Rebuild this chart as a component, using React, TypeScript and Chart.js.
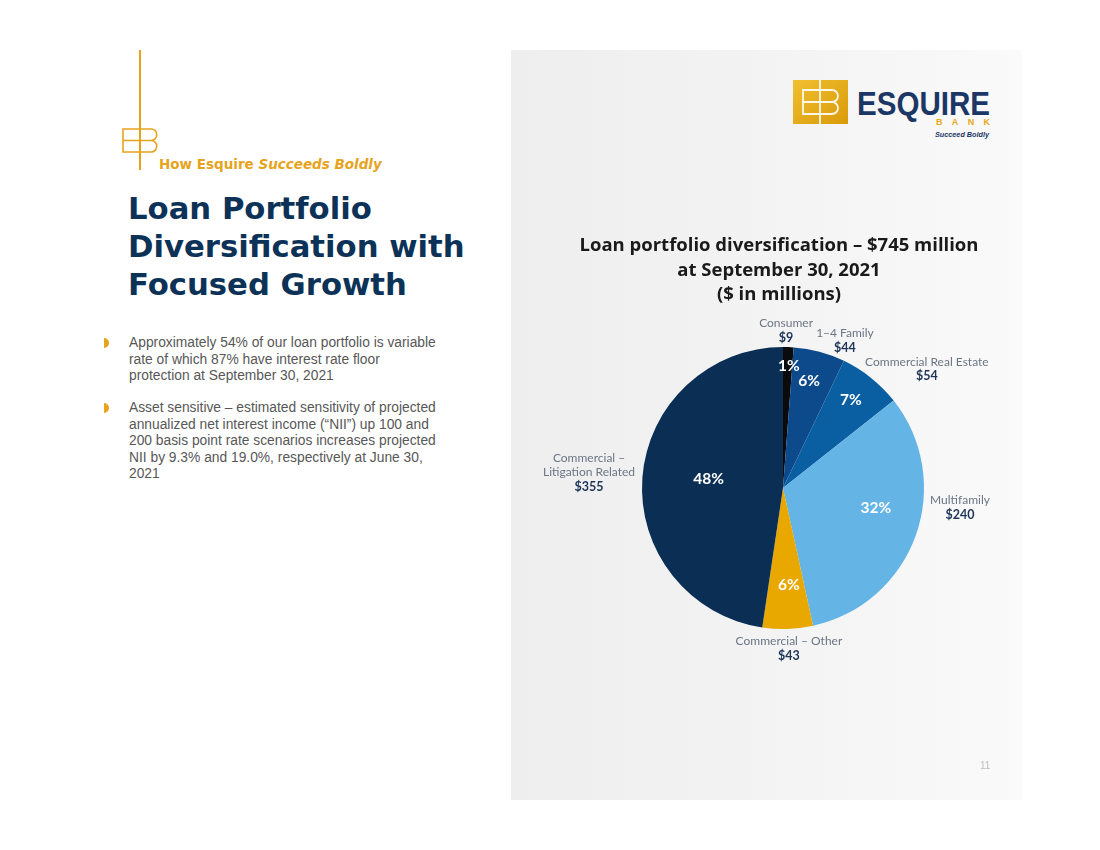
import React, { useEffect, useRef } from "react";
import { Chart, registerables } from "chart.js";

Chart.register(...registerables);

// ---------- data ----------
const categories = [
  "Consumer",
  "1–4 Family",
  "Commercial Real Estate",
  "Multifamily",
  "Commercial – Other",
  "Commercial – Litigation Related",
];
const categoryLines = [
  ["Consumer"],
  ["1–4 Family"],
  ["Commercial Real Estate"],
  ["Multifamily"],
  ["Commercial – Other"],
  ["Commercial –", "Litigation Related"],
];
const loanValues = [9, 44, 54, 240, 43, 355]; // $ millions
const sliceColors = ["#0b0b0e", "#0c4a8b", "#0a5fa2", "#64b4e6", "#e8a800", "#0b2e55"];
const chartTitle = [
  "Loan portfolio diversification – $745 million",
  "at September 30, 2021",
  "($ in millions)",
];

// ---------- label placement style (polar, relative to each slice) ----------
const pctPlace = [
  { f: 0.865, d: 0.6 },
  { f: 0.78, d: -1.3 },
  { f: 0.787, d: -1 },
  { f: 0.674, d: -7.7 },
  { f: 0.688, d: -1.5 },
  { f: 0.532, d: 3 },
];
const outPlace = [
  { f: 1.17, d: -1.1 },
  { f: 1.184, d: 6.8 },
  { f: 1.357, d: 10.1 },
  { f: 1.258, d: -15.8 },
  { f: 1.086, d: -0.3 },
  { f: 1.392, d: 4.6 },
];

const FONT = "Lato, 'Open Sans', sans-serif";

const sliceLabelPlugin = {
  id: "sliceLabels",
  afterDatasetsDraw(chart: any) {
    const ctx = chart.ctx as CanvasRenderingContext2D;
    const meta = chart.getDatasetMeta(0);
    const data = chart.data.datasets[0].data as number[];
    const total = data.reduce((a, b) => a + b, 0);
    ctx.save();
    ctx.textAlign = "center";
    ctx.textBaseline = "middle";
    meta.data.forEach((arc: any, i: number) => {
      const p = arc.getProps(["x", "y", "startAngle", "endAngle", "outerRadius"], true);
      const mid = (p.startAngle + p.endAngle) / 2;
      const pp = pctPlace[i];
      const a1 = mid + (pp.d * Math.PI) / 180;
      const r1 = p.outerRadius * pp.f;
      ctx.fillStyle = "#ffffff";
      ctx.font = `bold 15.5px ${FONT}`;
      ctx.fillText(`${Math.round((data[i] / total) * 100)}%`, p.x + r1 * Math.cos(a1), p.y + r1 * Math.sin(a1));
      const op = outPlace[i];
      const a2 = mid + (op.d * Math.PI) / 180;
      const r2 = p.outerRadius * op.f;
      const lx = p.x + r2 * Math.cos(a2);
      let ly = p.y + r2 * Math.sin(a2);
      ctx.font = `12px ${FONT}`;
      ctx.fillStyle = "#6b7585";
      categoryLines[i].forEach((line) => {
        ctx.fillText(line, lx, ly);
        ly += 14.5;
      });
      ctx.font = `bold 12.5px ${FONT}`;
      ctx.fillStyle = "#1e3558";
      ctx.fillText(`$${data[i]}`, lx, ly);
    });
    ctx.restore();
  },
};

const titlePlugin = {
  id: "panelTitle",
  afterDraw(chart: any) {
    const ctx = chart.ctx as CanvasRenderingContext2D;
    ctx.save();
    ctx.textAlign = "center";
    ctx.textBaseline = "middle";
    ctx.fillStyle = "#1a1a1a";
    ctx.font = `bold 18.5px 'Open Sans', Lato, sans-serif`;
    chartTitle.forEach((t, i) => ctx.fillText(t, 268, 196 + i * 24.5));
    ctx.restore();
  },
};

function PieChart() {
  const ref = useRef<HTMLCanvasElement | null>(null);
  useEffect(() => {
    if (!ref.current) return;
    const chart = new Chart(ref.current, {
      type: "pie",
      data: {
        labels: categories,
        datasets: [
          {
            data: loanValues,
            backgroundColor: sliceColors,
            borderWidth: 0,
          },
        ],
      },
      options: {
        animation: false,
        responsive: false,
        layout: { padding: { left: 131, right: 98, top: 297, bottom: 171 } },
        plugins: {
          legend: { display: false },
          tooltip: { enabled: false },
          title: { display: false },
        },
      },
      plugins: [sliceLabelPlugin, titlePlugin],
    });
    return () => chart.destroy();
  }, []);
  return <canvas ref={ref} width={511} height={750} style={{ position: "absolute", left: 511, top: 50, width: 511, height: 750 }} />;
}

const gold = "#e6a31c";
const navy = "#0d3257";
const HEAVY = "'DejaVu Sans', 'Liberation Sans', Arial, sans-serif";

function Bullet({ top, lines }: { top: number; lines: string[] }) {
  return (
    <>
      <div
        style={{
          position: "absolute",
          left: 104,
          top: top + 3,
          width: 5,
          height: 10,
          background: gold,
          borderRadius: "0 6px 6px 0",
        }}
      />
      <div
        style={{
          position: "absolute",
          left: 129,
          top,
          fontSize: 13.8,
          lineHeight: "16.5px",
          color: "#575757",
          whiteSpace: "nowrap",
        }}
      >
        {lines.map((l, i) => (
          <div key={i}>{l}</div>
        ))}
      </div>
    </>
  );
}

export default function App() {
  return (
    <div
      style={{
        position: "absolute",
        left: 0,
        top: 0,
        width: 1100,
        height: 850,
        background: "#ffffff",
        fontFamily: "'Liberation Sans', Arial, sans-serif",
        overflow: "hidden",
      }}
    >
      {/* left branding */}
      <div style={{ position: "absolute", left: 139, top: 50, width: 1.6, height: 120, background: gold }} />
      <svg style={{ position: "absolute", left: 118, top: 124 }} width={44} height={34}>
        <g fill="none" stroke={gold} strokeWidth={1.6}>
          <path d="M22 5 H5 V28 H22 M5 16.5 H22" />
          <path d="M22 5 H33 a5.75 5.75 0 0 1 0 11.5 H22 M33 16.5 a5.75 5.75 0 0 1 0 11.5 H22" />
        </g>
      </svg>
      <div
        style={{
          position: "absolute",
          left: 159,
          top: 156,
          fontSize: 13.5,
          fontWeight: "bold",
          fontFamily: HEAVY,
          color: gold,
          whiteSpace: "nowrap",
        }}
      >
        How Esquire <i>Succeeds Boldly</i>
      </div>
      <div
        style={{
          position: "absolute",
          left: 128,
          top: 190,
          fontSize: 30.7,
          lineHeight: "38px",
          fontWeight: "bold",
          fontFamily: HEAVY,
          color: navy,
          whiteSpace: "nowrap",
        }}
      >
        <div>Loan Portfolio</div>
        <div>Diversification with</div>
        <div>Focused Growth</div>
      </div>
      <Bullet
        top={335}
        lines={[
          "Approximately 54% of our loan portfolio is variable",
          "rate of which 87% have interest rate floor",
          "protection at September 30, 2021",
        ]}
      />
      <Bullet
        top={400}
        lines={[
          "Asset sensitive – estimated sensitivity of projected",
          "annualized net interest income (“NII”) up 100 and",
          "200 basis point rate scenarios increases projected",
          "NII by 9.3% and 19.0%, respectively at June 30,",
          "2021",
        ]}
      />

      {/* right panel */}
      <div
        style={{
          position: "absolute",
          left: 511,
          top: 50,
          width: 511,
          height: 750,
          background: "linear-gradient(to right, #eeeeee 0%, #f3f3f3 50%, #fafafa 100%)",
        }}
      />
      <svg style={{ position: "absolute", left: 790, top: 76 }} width={210} height={66}>
        <defs>
          <linearGradient id="gold" x1="0" y1="0" x2="1" y2="1">
            <stop offset="0" stopColor="#f0c030" />
            <stop offset="1" stopColor="#d99a0a" />
          </linearGradient>
        </defs>
        <rect x={3} y={4} width={55} height={44} fill="url(#gold)" />
        <g fill="none" stroke="#ffffff" strokeWidth={1.8} opacity={0.9}>
          <path d="M30 14 H13 V38 H30 M13 26 H30" />
          <path d="M30 14 H42 a6 6 0 0 1 0 12 H30 M42 26 a6 6 0 0 1 0 12 H30 M30 4 V48" />
        </g>
        <text
          x={67}
          y={39}
          fontSize={33}
          fontWeight="bold"
          fill="#1c3766"
          fontFamily="'Liberation Sans', Arial, sans-serif"
          textLength={133}
          lengthAdjust="spacingAndGlyphs"
        >
          ESQUIRE
        </text>
        <text
          x={146}
          y={49}
          fontSize={9}
          fontWeight="bold"
          fill="#e6a818"
          fontFamily="'Liberation Sans', Arial, sans-serif"
          textLength={54}
          lengthAdjust="spacing"
        >
          BANK
        </text>
        <text
          x={145}
          y={61}
          fontSize={7}
          fontWeight="bold"
          fontStyle="italic"
          fill="#1c3766"
          fontFamily="'Liberation Sans', Arial, sans-serif"
          textLength={54}
          lengthAdjust="spacingAndGlyphs"
        >
          Succeed Boldly
        </text>
      </svg>
      <PieChart />
      <div style={{ position: "absolute", left: 980, top: 760, fontSize: 10, color: "#bdbdbd" }}>11</div>
    </div>
  );
}
